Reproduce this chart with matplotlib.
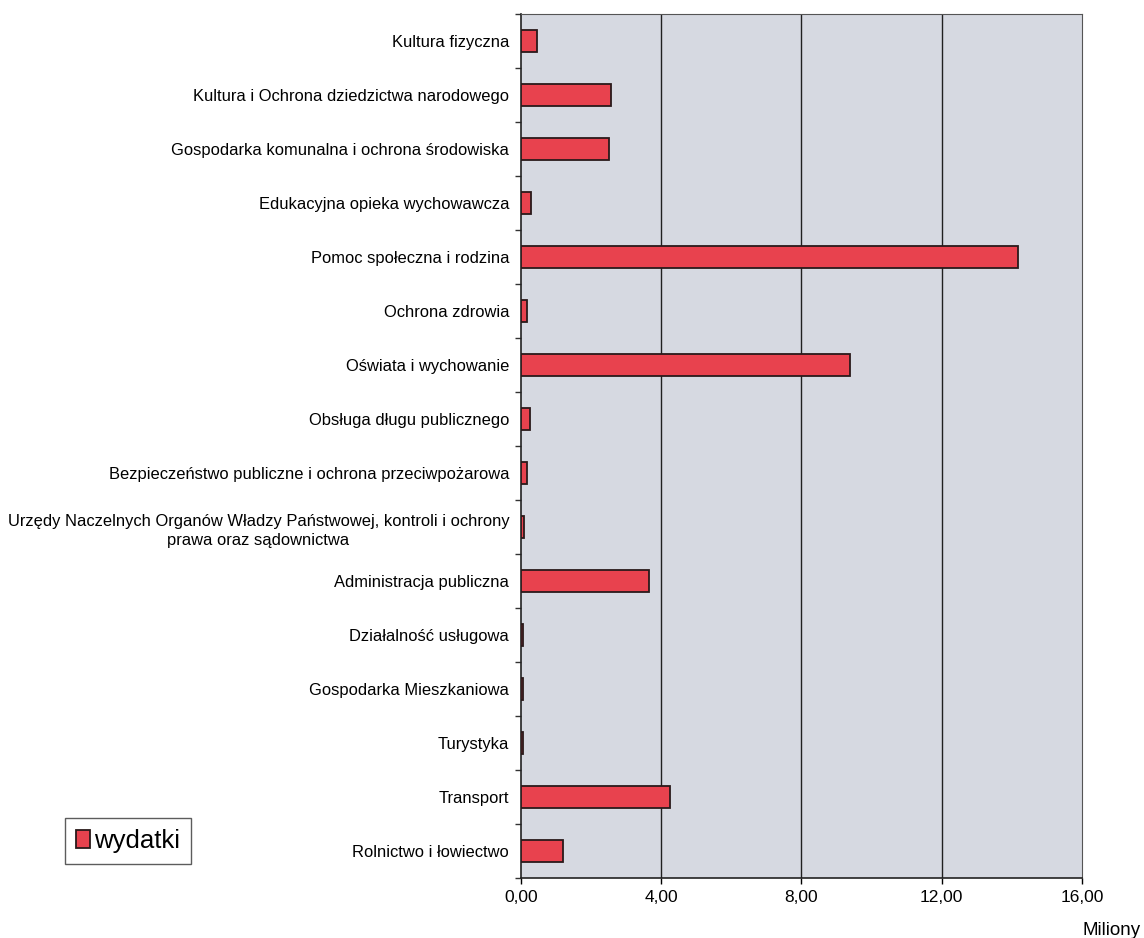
import matplotlib
matplotlib.use('Agg')
import matplotlib.pyplot as plt
import numpy as np

# categories listed top to bottom
categories = [
    'Kultura fizyczna',
    'Kultura i Ochrona dziedzictwa narodowego',
    'Gospodarka komunalna i ochrona środowiska',
    'Edukacyjna opieka wychowawcza',
    'Pomoc społeczna i rodzina',
    'Ochrona zdrowia',
    'Oświata i wychowanie',
    'Obsługa długu publicznego',
    'Bezpieczeństwo publiczne i ochrona przeciwpożarowa',
    'Urzędy Naczelnych Organów Władzy Państwowej, kontroli i ochrony\nprawa oraz sądownictwa',
    'Administracja publiczna',
    'Działalność usługowa',
    'Gospodarka Mieszkaniowa',
    'Turystyka',
    'Transport',
    'Rolnictwo i łowiectwo',
]
wydatki = [0.46, 2.57, 2.51, 0.29, 14.18, 0.17, 9.37, 0.26, 0.17, 0.08,
           3.66, 0.05, 0.05, 0.05, 4.26, 1.20]
xticks = [0, 4, 8, 12, 16]
xtick_labels = ['0,00', '4,00', '8,00', '12,00', '16,00']

plt.rcParams['font.family'] = ['Liberation Sans', 'DejaVu Sans']

fig = plt.figure(figsize=(11.44, 9.38), dpi=100)
ax = fig.add_axes([0.4554, 0.064, 0.4904, 0.921])
ax.set_facecolor('#d6d9e1')

n = len(categories)
y = np.arange(n)[::-1]
ax.barh(y, wydatki, height=0.4, color='#e8424e', edgecolor='#2a1a1a',
        linewidth=1.3, label='wydatki', zorder=3)

ax.set_xlim(0, 16)
ax.set_ylim(-0.5, n - 0.5)
ax.set_xticks(xticks)
ax.set_xticklabels(xtick_labels, fontsize=12.5)
ax.set_yticks(y)
ax.set_yticklabels(categories, fontsize=11.9)
for lab in ax.get_yticklabels():
    lab.set_multialignment('center')
    lab.set_linespacing(1.4)
ax.tick_params(axis='y', length=0, pad=8.5)
ax.set_yticks(np.arange(-0.5, n, 1), minor=True)
ax.tick_params(axis='y', which='minor', length=4, width=1, color='#333333')
ax.tick_params(axis='x', length=4, width=1, pad=5)

for g in [4, 8, 12]:
    ax.axvline(g, color='#202020', linewidth=1.0, zorder=1)

for side in ['top', 'right']:
    ax.spines[side].set_color('#555555')
    ax.spines[side].set_linewidth(0.8)
for side in ['left', 'bottom']:
    ax.spines[side].set_color('#222222')
    ax.spines[side].set_linewidth(1.2)

fig.text(1141 / 1144, 1 - 930 / 938, 'Miliony', fontsize=13.5,
         ha='right', va='center')

handles, labels = ax.get_legend_handles_labels()
fig.legend(handles, labels, loc='center', bbox_to_anchor=(128 / 1144, 1 - 841 / 938),
           fontsize=18.5, frameon=True, fancybox=False, edgecolor='#333333',
           handlelength=0.55, handleheight=0.7, handletextpad=0.15,
           borderpad=0.42, borderaxespad=0)

plt.savefig('out.png', dpi=100)
